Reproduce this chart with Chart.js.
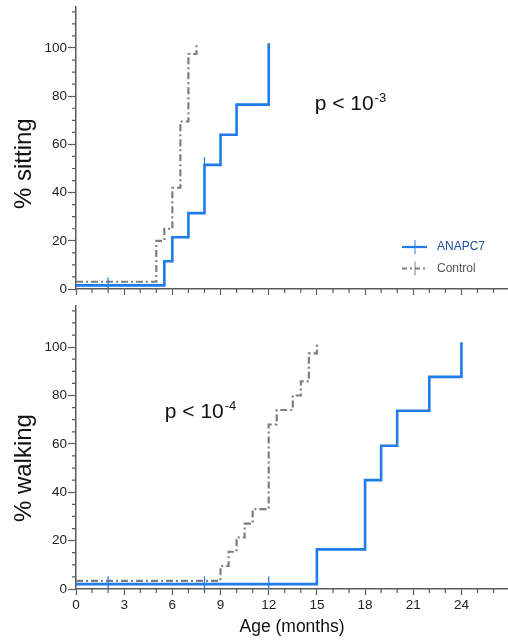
<!DOCTYPE html>
<html>
<head>
<meta charset="utf-8">
<script src="https://cdn.jsdelivr.net/npm/chart.js@4.4.0/dist/chart.umd.min.js"></script>
<style>
    html, body { margin: 0; padding: 0; background: #fff; }
    #wrap { position: relative; width: 508px; height: 640px; }
    canvas { position: absolute; left: 0; }
    #sitChart { top: 0; }
    #walkChart { top: 300px; }
</style>
</head>
<body>
<div id="wrap">
    <canvas id="sitChart" width="508" height="300"></canvas>
    <canvas id="walkChart" width="508" height="340"></canvas>
</div>
<script>
// Data: age in months, cumulative % achieving the milestone
const sitAnapcAge = [0, 5.5, 6, 7, 8, 9, 10, 12];
const sitAnapcPct = [1.5, 11.5, 21.5, 31.5, 51.5, 64, 76.5, 102];
const sitControlAge = [0, 5, 5.5, 6, 6.5, 7, 7.5];
const sitControlPct = [3, 20, 25, 42, 69.5, 97.5, 102];
const sitCensorAge = [2, 8];
const sitCensorPct = [1.5, 51.5];

const walkAnapcAge = [0, 15, 18, 19, 20, 22, 24];
const walkAnapcPct = [2, 16.4, 45, 59.2, 73.7, 87.7, 102];
const walkControlAge = [0, 9, 9.5, 10, 10.5, 11, 12, 12.5, 13.5, 14, 14.5, 15];
const walkControlPct = [3.4, 9.5, 15.4, 21.3, 27, 33, 68, 74, 80, 85.8, 97.4, 102];
const walkCensorAge = [2, 8, 12];
const walkCensorPct = [2, 2, 2];

const xTicks = [0, 3, 6, 9, 12, 15, 18, 21, 24];
const yTicks = [0, 20, 40, 60, 80, 100];

const FONT = "'Liberation Sans', Arial, Helvetica, sans-serif";
const AXIS = '#5a5a5a';
const BLUE = '#1e7be8';
const GREY = '#7f7f7f';

function pts(xs, ys) {
    return xs.map((x, i) => ({ x: x, y: ys[i] }));
}

// Minor ticks, rotated y title, p-value text and the small legend
const extras = {
    id: 'extras',
    afterDraw(chart, args, opts) {
        const ctx = chart.ctx;
        const xs = chart.scales.x;
        const ys = chart.scales.y;
        const area = chart.chartArea;
        ctx.save();

        // minor ticks
        ctx.strokeStyle = AXIS;
        ctx.lineWidth = 1.2;
        ctx.beginPath();
        for (let v = 5; v <= ys.max; v += 5) {
            if (yTicks.includes(v)) continue;
            const py = ys.getPixelForValue(v);
            ctx.moveTo(area.left - 4, py);
            ctx.lineTo(area.left, py);
        }
        for (let v = 1; v <= xs.max; v++) {
            if (xTicks.includes(v)) continue;
            const px = xs.getPixelForValue(v);
            ctx.moveTo(px, area.bottom);
            ctx.lineTo(px, area.bottom + 4);
        }
        ctx.stroke();

        // y title
        ctx.fillStyle = '#111';
        ctx.font = `24px ${FONT}`;
        ctx.textAlign = 'center';
        ctx.textBaseline = 'middle';
        ctx.save();
        ctx.translate(opts.titleX, ys.getPixelForValue(opts.titleAt));
        ctx.rotate(-Math.PI / 2);
        ctx.fillText(opts.yTitle, 0, 0);
        ctx.restore();

        // p value with superscript exponent
        const p = opts.pValue;
        const px = xs.getPixelForValue(p.x);
        const py = ys.getPixelForValue(p.y);
        ctx.textAlign = 'left';
        ctx.textBaseline = 'alphabetic';
        ctx.font = `21px ${FONT}`;
        ctx.fillText(p.text, px, py);
        const w = ctx.measureText(p.text).width;
        ctx.font = `13px ${FONT}`;
        ctx.fillText(p.sup, px + w + 1, py - 8);

        // legend
        if (opts.legend) {
            const lx = area.right - 106;
            let ly = area.bottom - 42;
            opts.legend.forEach(item => {
                ctx.strokeStyle = item.color;
                ctx.lineWidth = item.width;
                ctx.setLineDash(item.dash);
                ctx.beginPath();
                ctx.moveTo(lx, ly);
                ctx.lineTo(lx + 25, ly);
                ctx.stroke();
                ctx.setLineDash([]);
                ctx.lineWidth = 1;
                ctx.beginPath();
                ctx.moveTo(lx + 13, ly - 7);
                ctx.lineTo(lx + 13, ly + 7);
                ctx.stroke();
                ctx.fillStyle = item.textColor;
                ctx.font = `12px ${FONT}`;
                ctx.textBaseline = 'middle';
                ctx.fillText(item.label, lx + 35, ly);
                ly += 21.5;
            });
        }
        ctx.restore();
    }
};

function makeChart(id, cfg) {
    const ctx = document.getElementById(id).getContext('2d');
    return new Chart(ctx, {
        type: 'line',
        data: {
            datasets: [
                {
                    label: 'ANAPC7',
                    data: pts(cfg.anapcAge, cfg.anapcPct),
                    borderColor: BLUE,
                    borderWidth: 2.6,
                    stepped: 'before',
                    pointRadius: 0,
                    fill: false,
                    order: 1
                },
                {
                    label: 'Control',
                    data: pts(cfg.controlAge, cfg.controlPct),
                    borderColor: GREY,
                    borderWidth: 2.2,
                    borderDash: [7, 3, 2, 3],
                    stepped: 'before',
                    pointRadius: 0,
                    fill: false,
                    order: 2
                },
                {
                    type: 'scatter',
                    label: 'censored',
                    data: pts(cfg.censorAge, cfg.censorPct),
                    showLine: false,
                    pointStyle: 'line',
                    pointRotation: 90,
                    pointRadius: 8,
                    pointBorderColor: BLUE,
                    pointBorderWidth: 1.2,
                    order: 0
                }
            ]
        },
        options: {
            responsive: false,
            animation: false,
            events: [],
            layout: {
                autoPadding: false,
                padding: { top: cfg.padTop, left: 0, right: 0, bottom: 0 }
            },
            plugins: {
                legend: { display: false },
                tooltip: { enabled: false },
                extras: {
                    yTitle: cfg.yTitle,
                    titleX: 24,
                    titleAt: cfg.titleAt,
                    pValue: cfg.pValue,
                    legend: cfg.legend
                }
            },
            scales: {
                x: {
                    type: 'linear',
                    min: 0,
                    max: 26.9,
                    afterBuildTicks: s => { s.ticks = xTicks.map(v => ({ value: v })); },
                    ticks: {
                        display: cfg.showX,
                        autoSkip: false,
                        maxRotation: 0,
                        padding: 2,
                        color: '#222',
                        font: { family: FONT, size: 13.5 }
                    },
                    grid: { drawOnChartArea: false, tickLength: 6, tickColor: AXIS, tickWidth: 1.2 },
                    border: { color: AXIS, width: 1.5 },
                    title: {
                        display: cfg.showX,
                        text: 'Age (months)',
                        color: '#111',
                        font: { family: FONT, size: 17.5 },
                        padding: { top: 2, bottom: 2 }
                    },
                    afterFit: s => {
                        s.height = cfg.xHeight;
                        s.paddingLeft = 0;
                        s.paddingRight = 0;
                    }
                },
                y: {
                    type: 'linear',
                    min: 0,
                    max: 117,
                    afterBuildTicks: s => { s.ticks = yTicks.map(v => ({ value: v })); },
                    ticks: {
                        padding: 1,
                        color: '#222',
                        font: { family: FONT, size: 13.5 }
                    },
                    grid: { drawOnChartArea: false, tickLength: 8, tickColor: AXIS, tickWidth: 1.2 },
                    border: { color: AXIS, width: 1.5 },
                    afterFit: s => {
                        s.width = 76;
                        s.paddingTop = 0;
                        s.paddingBottom = 0;
                    }
                }
            }
        },
        plugins: [extras]
    });
}

makeChart('sitChart', {
    anapcAge: sitAnapcAge, anapcPct: sitAnapcPct,
    controlAge: sitControlAge, controlPct: sitControlPct,
    censorAge: sitCensorAge, censorPct: sitCensorPct,
    yTitle: '% sitting',
    titleAt: 52,
    pValue: { text: 'p < 10', sup: '-3', x: 14.86, y: 74.2 },
    legend: [
        { label: 'ANAPC7', color: BLUE, width: 2.2, dash: [], textColor: '#1c4fa3' },
        { label: 'Control', color: GREY, width: 2, dash: [5, 3, 2, 3], textColor: '#555' }
    ],
    showX: false,
    xHeight: 11,
    padTop: 7
});

makeChart('walkChart', {
    anapcAge: walkAnapcAge, anapcPct: walkAnapcPct,
    controlAge: walkControlAge, controlPct: walkControlPct,
    censorAge: walkCensorAge, censorPct: walkCensorPct,
    yTitle: '% walking',
    titleAt: 50,
    pValue: { text: 'p < 10', sup: '-4', x: 5.53, y: 70.7 },
    legend: null,
    showX: true,
    xHeight: 51,
    padTop: 6
});
</script>
</body>
</html>
